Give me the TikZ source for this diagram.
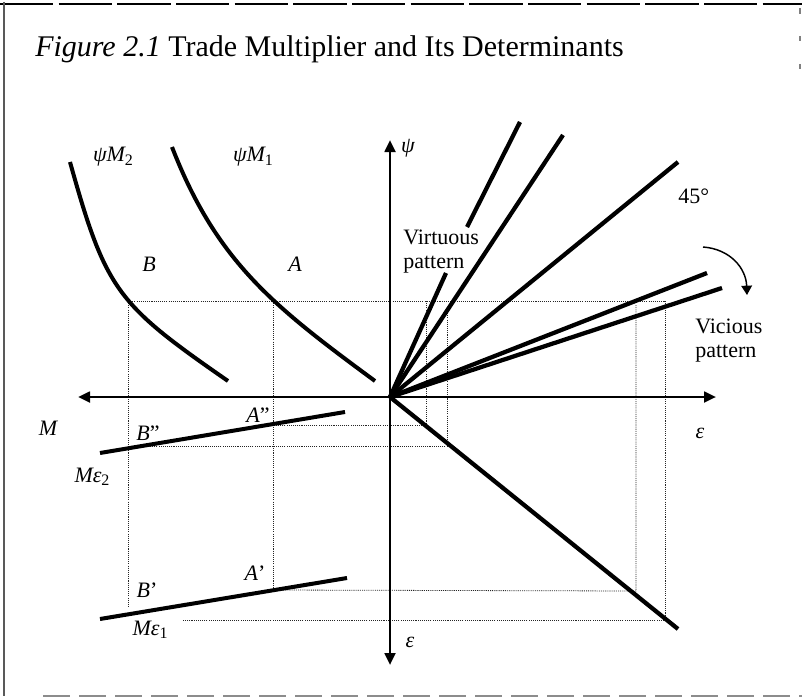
\documentclass[tikz,border=0pt]{standalone}
\usepackage{fontspec}
\setmainfont{Liberation Serif}
\usetikzlibrary{arrows.meta}
\newcommand\sbsc[1]{\raisebox{-0.35ex}{\fontsize{12}{12}\selectfont\upshape #1}}
\begin{document}
\begin{tikzpicture}[x=0.75pt,y=-0.75pt,
  lbl/.style={font=\fontsize{16.5}{18}\selectfont\itshape, inner sep=0pt},
  txt/.style={font=\fontsize{16.5}{18}\selectfont, inner sep=0pt},
  curvestyle/.style={line width=3pt},
  raystyle/.style={line width=3.2pt},
  axisstyle/.style={line width=2pt},
  guide/.style={line width=0.6pt, dash pattern=on 0.8pt off 0.8pt, black!85},
  tipbig/.style={-{Triangle[length=9pt,width=8pt]}},
  ]
\useasboundingbox (0,0) rectangle (802,699);
% frame
\draw[line width=1.1pt, dash pattern=on 40pt off 4pt] (0,4) -- (802,4);
\draw[line width=0.9pt, black!65] (4,2) -- (4,696);
\draw[line width=1.1pt, black!45, dash pattern=on 20pt off 7pt] (43,696) -- (802,696);
\draw[line width=0.8pt, black!50] (800,8) -- (800,14) (800,36) -- (800,41) (800,64) -- (800,69);
% title
\node[anchor=base west, inner sep=0pt, font=\fontsize{22.5}{26}\selectfont] (title) at (35,57)
  {\itshape Figure 2.1\upshape{} Trade Multiplier and Its Determinants};
% coordinates
\coordinate (O) at (390,397);
\coordinate (axL) at (78,397);
\coordinate (axR) at (716,397);
\coordinate (axU) at (390,140);
\coordinate (axD) at (390,665);
% guides (dotted)
\coordinate (B) at (128,301);
\coordinate (A) at (273,301);
\coordinate (T4) at (665,301);
\coordinate (Bv) at (128,607);
\coordinate (Av) at (273,590);
\coordinate (V1t) at (426,301);
\coordinate (V1b) at (426,425);
\coordinate (V2t) at (447,311);
\coordinate (V2b) at (447,446);
\coordinate (V3t) at (636,305);
\coordinate (V3b) at (636,591);
\coordinate (V4b) at (665,620);
\coordinate (App) at (273,425);
\coordinate (Bpp) at (128,446);
\coordinate (Bpl) at (183,620);
\draw[guide] (B) -- (T4);
\draw[guide] (B) -- (Bv);
\draw[guide] (A) -- (Av);
\draw[guide] (V1t) -- (V1b) -- (App);
\draw[guide] (V2t) -- (V2b) -- (Bpp);
\draw[guide] (V3t) -- (V3b) -- (Av);
\draw[guide] (T4) -- (V4b) -- (Bpl);
% axes
\draw[axisstyle,tipbig] (O) -- (axL);
\draw[axisstyle,tipbig] (O) -- (axR);
\draw[axisstyle,tipbig] (O) -- (axU);
\draw[axisstyle,tipbig] (O) -- (axD);
% psi M curves
\coordinate (m2a) at (70,162);
\coordinate (m2b) at (228,381);
\coordinate (m1a) at (172,147);
\coordinate (m1b) at (375,381);
\draw[curvestyle] (m2a) .. controls (106,291) and (117,304) .. (m2b);
\draw[curvestyle] (m1a) .. controls (217,263) and (275.5,307.6) .. (m1b);
% M epsilon lines
\coordinate (Me2a) at (100,453);
\coordinate (Me2b) at (345,412);
\coordinate (Me1a) at (100,619);
\coordinate (Me1b) at (347,578);
\draw[curvestyle] (Me2a) -- (Me2b);
\draw[curvestyle] (Me1a) -- (Me1b);
% rays
\coordinate (R1a) at (446,273);
\coordinate (R1b) at (467,227);
\coordinate (R1) at (520,122);
\coordinate (R2) at (563,135);
\coordinate (R3) at (678,162);
\coordinate (R4) at (707,273);
\coordinate (R5) at (722,288);
\coordinate (R6) at (678,629);
\draw[raystyle] (O) -- (R1a);
\draw[raystyle] (R1b) -- (R1);
\draw[raystyle] (O) -- (R2);
\draw[raystyle] (O) -- (R3);
\draw[raystyle] (O) -- (R4);
\draw[raystyle] (O) -- (R5);
\draw[raystyle] (O) -- (R6);
% curved arrow
\coordinate (ca1) at (703,247);
\coordinate (ca2) at (747,295);
\draw[line width=1.1pt, -{Triangle[length=7pt,width=8pt]}] (ca1) .. controls (730,249) and (746,268) .. (ca2);
% labels
\node[lbl] (lpsiM2) at (113,157) {ψM\sbsc{2}};
\node[lbl] (lpsiM1) at (253,157) {ψM\sbsc{1}};
\node[lbl] (lB) at (149,264) {B};
\node[lbl] (lA) at (295,264) {A};
\node[lbl] (lpsi) at (408,148) {ψ};
\node[txt, anchor=base west] (lvir1) at (403,244) {Virtuous};
\node[txt, anchor=base west] (lvir2) at (403,268) {pattern};
\node[txt, anchor=base west] (l45) at (678,203) {45°};
\node[txt, anchor=base west] (lvic1) at (695,333) {Vicious};
\node[txt, anchor=base west] (lvic2) at (695,357) {pattern};
\node[lbl] (lM) at (48,428) {M};
\node[lbl] (lApp) at (258,415) {A\upshape ”};
\node[lbl] (lBpp) at (148,433) {B\upshape ”};
\node[lbl] (lMe2) at (92,477) {Mε\sbsc{2}};
\node[lbl] (lAp) at (255,573) {A\upshape ’};
\node[lbl] (lBp) at (147,590) {B\upshape ’};
\node[lbl] (lMe1) at (150,630) {Mε\sbsc{1}};
\node[lbl] (leps1) at (700,433) {ε};
\node[lbl] (leps2) at (410,642) {ε};
\end{tikzpicture}
\end{document}
